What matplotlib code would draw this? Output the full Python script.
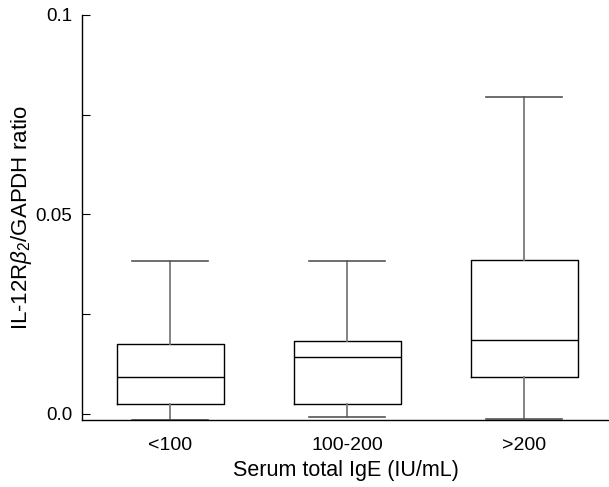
import matplotlib
matplotlib.use("Agg")
import matplotlib.pyplot as plt
from matplotlib.ticker import MultipleLocator

# values
groups = ["<100", "100-200", ">200"]
whisker_low = [-0.0015, -0.0008, -0.0012]
q1 = [0.0026, 0.0026, 0.0092]
medians = [0.0092, 0.0142, 0.0185]
q3 = [0.0176, 0.0183, 0.0385]
whisker_high = [0.0384, 0.0384, 0.0794]

plt.rcParams['font.family'] = ['Liberation Sans', 'DejaVu Sans']
plt.rcParams['mathtext.fontset'] = 'custom'
plt.rcParams['mathtext.it'] = 'Liberation Sans:italic'
plt.rcParams['mathtext.rm'] = 'Liberation Sans'

stats = []
for i, name in enumerate(groups):
    stats.append({
        'label': name,
        'whislo': whisker_low[i],
        'q1': q1[i],
        'med': medians[i],
        'q3': q3[i],
        'whishi': whisker_high[i],
        'fliers': [],
    })

fig = plt.figure(figsize=(6.09, 4.87), dpi=100)
ax = fig.add_axes([0.1346, 0.1366, 0.8654, 0.8326])

ax.bxp(stats, positions=[1, 2, 3], widths=0.604, showfliers=False,
       boxprops=dict(color='black', linewidth=1.0),
       medianprops=dict(color='black', linewidth=1.0),
       whiskerprops=dict(color='#7a7a7a', linewidth=1.3),
       capprops=dict(color='#555555', linewidth=1.2),
       capwidths=0.43)

ax.set_xlim(0.5, 3.48)
ax.set_ylim(-0.00163, 0.1)
ax.yaxis.set_minor_locator(MultipleLocator(0.025))
ax.set_yticks([0.0, 0.05, 0.1])
ax.set_yticklabels(['0.0', '0.05', '0.1'])

for side in ['top', 'right']:
    ax.spines[side].set_visible(False)
for side in ['left', 'bottom']:
    ax.spines[side].set_linewidth(1.0)
ax.spines['left'].set_bounds(-0.00163, 0.1)

ax.tick_params(axis='y', which='both', direction='in', length=6, width=0.8,
               labelsize=13.5, pad=7)
ax.tick_params(axis='x', length=0, labelsize=14, pad=12)

ax.set_xlabel('Serum total IgE (IU/mL)', fontsize=15.5, labelpad=4)
ax.set_ylabel(r'IL-12R$\beta_{2}$/GAPDH ratio', fontsize=16, labelpad=1)

fig.savefig('out.png', dpi=100)
